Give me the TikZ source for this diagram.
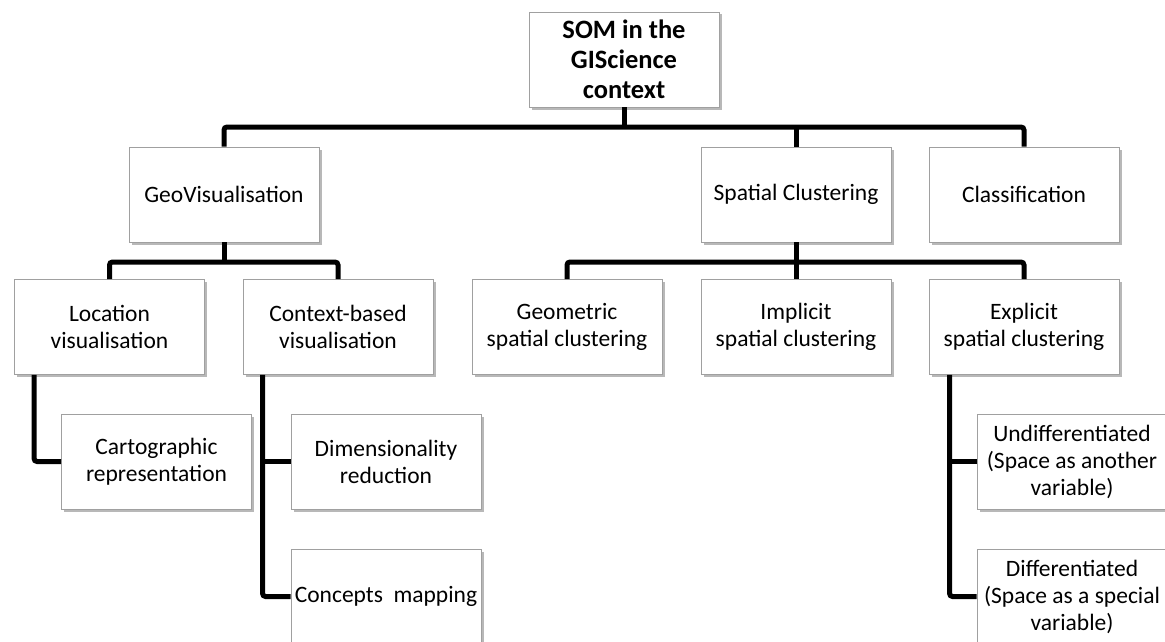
\documentclass[tikz,border=0pt]{standalone}
\usepackage{fontspec}
\setmainfont{Carlito}
\usetikzlibrary{shadows,calc}
\definecolor{boxgray}{RGB}{160,160,160}
\begin{document}
\begin{tikzpicture}[x=1pt,y=-1pt,
  box/.style={draw=boxgray, line width=0.9pt, fill=white,
    minimum width=190pt, minimum height=95pt, text width=186pt,
    inner sep=2pt, align=flush center,
    font=\fontsize{23.5}{27}\selectfont,
    drop shadow={shadow xshift=2.5pt, shadow yshift=-2.5pt, fill=black, opacity=0.28}},
  rootbox/.style={box, font=\fontsize{26.5}{30}\selectfont\bfseries},
  conn/.style={line width=5pt, rounded corners=3pt}]
\useasboundingbox (0,0) rectangle (1165,642);
\clip (0,0) rectangle (1165,642);
\coordinate (b1) at (0,127);
\coordinate (b2) at (0,262);

\node[rootbox] (root) at (624,59.5) {SOM in the\\GIScience\\context};
\node[box] (geo) at (224,194.5) {GeoVisualisation};
\node[box] (spc) at (796,194.5) {Spatial Clustering};
\node[box] (cls) at (1024,194.5) {Classification};
\node[box] (loc) at (109.5,327) {Location\\visualisation};
\node[box] (ctx) at (338,327) {Context-based\\visualisation};
\node[box] (geom) at (567,327) {Geometric\\spatial clustering};
\node[box] (impl) at (796,327) {Implicit\\spatial clustering};
\node[box] (expl) at (1024,327) {Explicit\\spatial clustering};
\node[box] (carto) at (156.5,461.5) {Cartographic\\representation};
\node[box] (dim) at (386,461.5) {Dimensionality\\reduction};
\node[box] (conc) at (386,596.5) {Concepts\ \ mapping};
\node[box] (undiff) at (1072,461.5) {Undifferentiated\\(Space as another\\variable)};
\node[box] (diff) at (1072,596.5) {Differentiated\\(Space as a special\\variable)};

% level 1
\draw[conn] (geo.north) |- (cls.north |- b1) -- (cls.north);
\draw[conn] (root.south) -- (root.south |- b1);
\draw[conn] (spc.north) -- (spc.north |- b1);
% level 2 under GeoVisualisation
\draw[conn] (loc.north) |- (ctx.north |- b2) -- (ctx.north);
\draw[conn] (geo.south) -- (geo.south |- b2);
% level 2 under Spatial Clustering
\draw[conn] (geom.north) |- (expl.north |- b2) -- (expl.north);
\draw[conn] (spc.south) -- (spc.south |- b2);
\draw[conn] (impl.north) -- (impl.north |- b2);
% level 3
\draw[conn] ([xshift=20pt]loc.south west) |- (carto.west);
\draw[conn] ([xshift=20pt]ctx.south west) |- (conc.west);
\draw[conn] ([xshift=20pt]ctx.south west |- dim.west) -- (dim.west);
\draw[conn] ([xshift=21pt]expl.south west) |- (diff.west);
\draw[conn] ([xshift=21pt]expl.south west |- undiff.west) -- (undiff.west);
\end{tikzpicture}
\end{document}
